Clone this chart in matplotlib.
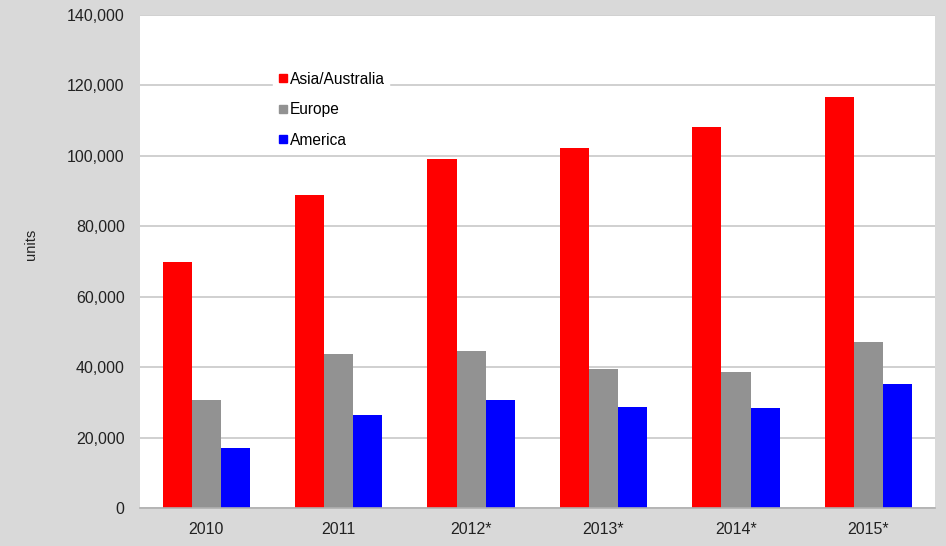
import matplotlib.pyplot as plt
import numpy as np
from matplotlib.lines import Line2D

plt.rcParams['font.family'] = ['Liberation Sans', 'DejaVu Sans']

years = ['2010', '2011', '2012*', '2013*', '2014*', '2015*']
asia = [70000, 88800, 99000, 102200, 108300, 116800]
europe = [30600, 43800, 44500, 39500, 38500, 47000]
america = [17100, 26400, 30700, 28600, 28500, 35300]

series = [('Asia/Australia', asia, '#ff0000'),
          ('Europe', europe, '#929292'),
          ('America', america, '#0000ff')]

fig = plt.figure(figsize=(9.46, 5.46), dpi=100, facecolor='#d9d9d9')
ax = fig.add_axes([0.148, 0.0696, 0.84, 0.9029])
ax.set_facecolor('white')

x = np.arange(len(years))
w = 0.22
for i, (name, vals, col) in enumerate(series):
    ax.bar(x + (i - 1) * w, vals, width=w, color=col, zorder=2)

ax.set_xlim(-0.5, len(years) - 0.5)
ax.set_ylim(0, 140000)
ax.set_yticks(range(0, 140001, 20000))
ax.set_yticklabels([f'{v:,}' for v in range(0, 140001, 20000)])
ax.set_xticks(x)
ax.set_xticklabels(years)
ax.yaxis.grid(True, color='#c8c8c8', linewidth=1.2, zorder=0)
ax.set_axisbelow(True)
ax.tick_params(length=0, labelsize=11.5, colors='#222222')
ax.tick_params(axis='x', pad=10)
ax.tick_params(axis='y', pad=11)
for s in ['top', 'right', 'left']:
    ax.spines[s].set_visible(False)
ax.spines['bottom'].set_color('#b0b0b0')
ax.spines['bottom'].set_linewidth(1.2)

ax.set_ylabel('units', fontsize=10.5, color='#222222')
ax.yaxis.set_label_coords(-0.128, 0.535)

handles = [Line2D([], [], marker='s', linestyle='none', markersize=6,
                  color=col) for _, _, col in series]
leg = ax.legend(handles, [s[0] for s in series], loc='upper left',
                bbox_to_anchor=(0.158, 0.91), frameon=True, fontsize=11.2,
                handlelength=0.6, handletextpad=0.15, labelspacing=1.0,
                borderpad=0.3, fancybox=False)
leg.get_frame().set_edgecolor('white')
leg.get_frame().set_facecolor('white')
leg.get_frame().set_alpha(1)

fig.savefig('out.png', dpi=100, facecolor=fig.get_facecolor())
